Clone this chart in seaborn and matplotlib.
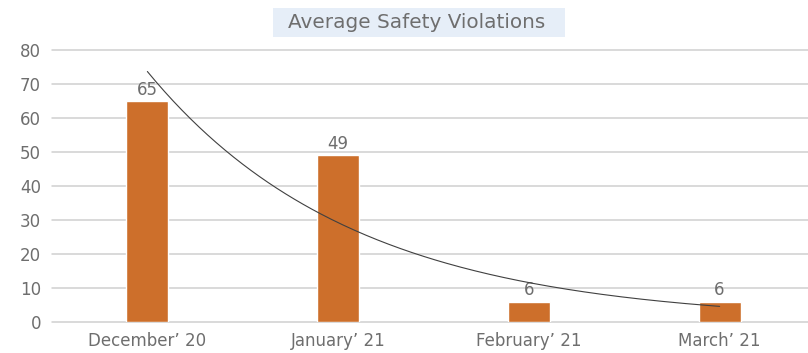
import numpy as np
import pandas as pd
import matplotlib
matplotlib.use("Agg")
import matplotlib.pyplot as plt
from matplotlib.patches import Rectangle
import seaborn as sns

months = ["December\u2019 20", "January\u2019 21", "February\u2019 21", "March\u2019 21"]
violations = [65, 49, 6, 6]
y_ticks = [0, 10, 20, 30, 40, 50, 60, 70, 80]

sns.set_style("white")
plt.rcParams["font.family"] = ["DejaVu Sans"]

text_gray = "#6E6E6E"
bar_color = "#CD6F2B"
grid_gray = "#D0D0D0"

df = pd.DataFrame({"month": months, "violations": violations})

fig = plt.figure(figsize=(8.08, 3.53), dpi=100)
ax = fig.add_axes([52 / 808, 1 - 322 / 353, 763 / 808, 272 / 353])

sns.barplot(data=df, x="month", y="violations", color=bar_color,
            width=0.22, saturation=1, ax=ax, zorder=3)

# value labels on each bar
for i, v in enumerate(violations):
    ax.text(i, v + 0.7, str(v), ha="center", va="bottom",
            fontsize=12, color=text_gray, zorder=4)

# exponential trendline fitted to the series
xs = np.arange(1, len(violations) + 1)
b, a = np.polyfit(xs, np.log(violations), 1)
xf = np.linspace(1, len(violations), 200)
ax.plot(xf - 1, np.exp(a + b * xf), color="#404040", lw=0.8, zorder=5)

ax.set_ylim(0, 80)
ax.set_xlim(-0.5, len(months) - 0.5)
ax.set_yticks(y_ticks)
ax.yaxis.grid(True, color=grid_gray, lw=1.1, zorder=0)
for gl in ax.get_ygridlines():
    gl.set_clip_on(False)
ax.set_axisbelow(True)
for s in ax.spines.values():
    s.set_visible(False)
ax.set_xlabel("")
ax.set_ylabel("")
ax.tick_params(axis="both", length=0, labelsize=12, colors=text_gray)
ax.tick_params(axis="y", pad=8)
ax.tick_params(axis="x", pad=7)

# title with shaded band behind it
fig.patches.append(Rectangle((273 / 808, 1 - 37 / 353), 292 / 808, 29 / 353,
                             transform=fig.transFigure, facecolor="#E6EEF8",
                             edgecolor="none", zorder=0))
fig.text(417 / 808, 1 - 22.5 / 353, "Average Safety Violations",
         ha="center", va="center", fontsize=14.4, color=text_gray)

fig.savefig("out.png", dpi=100)
